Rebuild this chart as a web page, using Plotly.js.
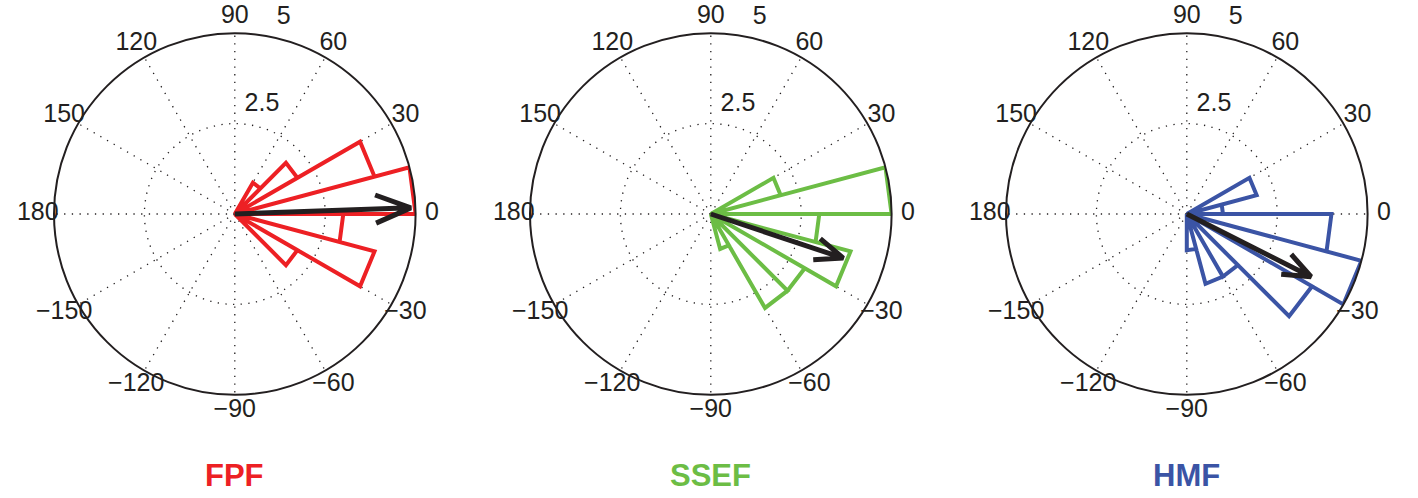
<!DOCTYPE html>
<html>
<head>
<meta charset="utf-8">
<script src="https://cdn.plot.ly/plotly-3.0.1.min.js"></script>
<style>
  html, body { margin: 0; padding: 0; background: #ffffff; }
  #chart { width: 1418px; height: 498px; }
</style>
</head>
<body>
<div id="chart"></div>
<script>
// ---------------- data ----------------
const panelNames = ['FPF', 'SSEF', 'HMF'];
const panelColors = ['#ED2024', '#6CBD45', '#3B54A5'];

const angleTicks = [0, 30, 60, 90, 120, 150, 180, 210, 240, 270, 300, 330];
const angleTickText = ['0', '30', '60', '90', '120', '150', '180', '\u2212150', '\u2212120', '\u221290', '\u221260', '\u221230'];
const radialTicks = [2.5, 5];
const radialTickText = ['2.5', '5'];
const rMax = 5;
const binWidth = 15;

// rose histogram bins (start angle, degrees) and counts
const fpfBinStart = [-45, -30, -15, 0, 15, 30, 45];
const fpfCounts   = [2, 4, 3, 5, 4, 2, 1];

const ssefBinStart = [-75, -60, -45, -30, -15, 0, 15];
const ssefCounts   = [1, 3, 3, 4, 3, 5, 2];

const hmfBinStart = [-90, -75, -60, -45, -30, -15, 0, 15];
const hmfCounts   = [1, 2, 2, 4, 5, 4, 1, 2];

// mean resultant vectors (angle in degrees, length)
const meanAngle  = [2, -18.4, -26.8];
const meanLength = [4.87, 3.86, 3.85];

// ---------------- layout constants ----------------
const W = 1418, H = 498;
const R = 180.8;                 // pixel radius of r = rMax
const centersX = [234.8, 710.8, 1186.8];
const centerY = 214;
const labelFactor = 1.09;        // angular labels sit just outside the rim
const labelRange = 5.7;          // range of the transparent label overlay
const RL = R * labelRange / rMax;
const fontFamily = '"Liberation Sans", Arial, Helvetica, sans-serif';
const textColor = '#231F20';
const gridStyle = { gridcolor: '#231F20', gridwidth: 1.3, griddash: '1.3px,6.4px' };

const bins = [[fpfBinStart, fpfCounts], [ssefBinStart, ssefCounts], [hmfBinStart, hmfCounts]];

function rosePath(starts, counts) {
  const r = [], t = [];
  for (let i = 0; i < starts.length; i++) {
    const s = starts[i], c = counts[i];
    r.push(0, c, c, 0);
    t.push(s, s, s + binWidth, s + binWidth);
  }
  return { r, t };
}

function compassArrow(phi, L) {
  // MATLAB compass arrow: shaft to tip, barbs at 0.8 L with +/-0.08 L offset
  const hr = L * Math.hypot(0.8, 0.08);
  const dt = Math.atan2(0.08, 0.8) * 180 / Math.PI;
  return {
    r: [0, L, hr, L, hr],
    t: [phi, phi, phi + dt, phi, phi - dt]
  };
}

function domainFor(cx, rad) {
  return {
    x: [(cx - rad) / W, (cx + rad) / W],
    y: [(H - centerY - rad) / H, (H - centerY + rad) / H]
  };
}

const traces = [];
const layout = {
  width: W, height: H,
  margin: { l: 0, r: 0, t: 0, b: 0 },
  paper_bgcolor: '#ffffff',
  plot_bgcolor: '#ffffff',
  showlegend: false,
  hovermode: false,
  annotations: []
};

for (let k = 0; k < 3; k++) {
  const sp = k === 0 ? 'polar' : 'polar' + (k + 1);
  const spLab = 'polar' + (k + 4);
  const cx = centersX[k];

  layout[sp] = {
    domain: domainFor(cx, R),
    bgcolor: '#ffffff',
    angularaxis: Object.assign({
      rotation: 0,
      direction: 'counterclockwise',
      tickmode: 'array',
      tickvals: angleTicks,
      showticklabels: false,
      ticks: '',
      showline: true,
      linecolor: '#231F20',
      linewidth: 2,
      showgrid: true
    }, gridStyle),
    radialaxis: Object.assign({
      range: [0, rMax],
      tickmode: 'array',
      tickvals: radialTicks,
      showticklabels: false,
      ticks: '',
      showline: false,
      showgrid: true
    }, gridStyle)
  };

  // transparent overlay that only carries the MATLAB-style labels
  layout[spLab] = {
    domain: domainFor(cx, RL),
    bgcolor: 'rgba(0,0,0,0)',
    angularaxis: {
      rotation: 0, direction: 'counterclockwise',
      showline: false, showgrid: false, showticklabels: false, ticks: ''
    },
    radialaxis: {
      range: [0, labelRange], visible: false,
      showline: false, showgrid: false, showticklabels: false, ticks: ''
    }
  };

  const rose = rosePath(bins[k][0], bins[k][1]);
  traces.push({
    type: 'scatterpolar', subplot: sp, mode: 'lines',
    r: rose.r, theta: rose.t,
    line: { color: panelColors[k], width: 4 },
    hoverinfo: 'skip'
  });

  const arr = compassArrow(meanAngle[k], meanLength[k]);
  traces.push({
    type: 'scatterpolar', subplot: sp, mode: 'lines',
    r: arr.r, theta: arr.t,
    line: { color: '#231F20', width: 5 },
    hoverinfo: 'skip'
  });

  // angular tick labels just outside the rim (MATLAB polar style)
  traces.push({
    type: 'scatterpolar', subplot: spLab, mode: 'text',
    r: angleTicks.map(() => rMax * labelFactor), theta: angleTicks,
    text: angleTickText, textposition: 'middle center',
    textfont: { family: fontFamily, size: 25, color: textColor },
    cliponaxis: false, hoverinfo: 'skip'
  });

  // radial tick labels
  traces.push({
    type: 'scatterpolar', subplot: spLab, mode: 'text',
    r: radialTicks.map(v => v + 0.6), theta: radialTicks.map(() => 76),
    text: radialTickText, textposition: 'middle center',
    textfont: { family: fontFamily, size: 25, color: textColor },
    cliponaxis: false, hoverinfo: 'skip'
  });

  layout.annotations.push({
    xref: 'paper', yref: 'paper',
    x: cx / W, y: 1 - 475 / H,
    xanchor: 'center', yanchor: 'middle',
    text: panelNames[k], showarrow: false,
    font: { family: fontFamily, size: 31, color: panelColors[k], weight: 'bold' }
  });
}

Plotly.newPlot('chart', traces, layout, { staticPlot: true, displayModeBar: false });
</script>
</body>
</html>
